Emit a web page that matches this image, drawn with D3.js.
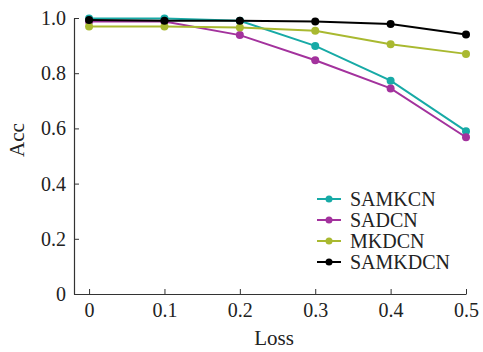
<!DOCTYPE html>
<html>
<head>
<meta charset="utf-8">
<script src="https://cdn.jsdelivr.net/npm/d3@7"></script>
<style>
  body { margin: 0; background: #fff; }
  text { font-family: "Liberation Serif", "Times New Roman", serif; fill: #222; }
</style>
</head>
<body>
<svg width="483" height="352"></svg>
<script>
var lossTicks = [0, 0.1, 0.2, 0.3, 0.4, 0.5];
var accTicks = [0, 0.2, 0.4, 0.6, 0.8, 1.0];
var seriesNames = ["SAMKCN", "SADCN", "MKDCN", "SAMKDCN"];
var samkcn = [0.998, 0.998, 0.99, 0.899, 0.773, 0.59];
var sadcn = [0.987, 0.987, 0.938, 0.847, 0.745, 0.568];
var mkdcn = [0.969, 0.969, 0.966, 0.954, 0.905, 0.87];
var samkdcn = [0.993, 0.99, 0.99, 0.987, 0.978, 0.94];
var colors = ["#17aaa6", "#a3329d", "#a9b930", "#000000"];

var svg = d3.select("svg");

var x = d3.scaleLinear().domain([-0.02, 0.5]).range([74, 466]);
var y = d3.scaleLinear().domain([0, 1]).range([294, 18]);

var series = [samkcn, sadcn, mkdcn, samkdcn].map(function(vals, i) {
  return {
    name: seriesNames[i],
    color: colors[i],
    values: vals.map(function(v, j) { return { loss: lossTicks[j], acc: v }; })
  };
});

// axes
var xAxis = svg.append("g")
  .attr("transform", "translate(0,294)")
  .call(d3.axisBottom(x).tickValues(lossTicks).tickSize(-5).tickSizeOuter(0)
    .tickFormat(function(d) { return d === 0 ? "0" : d3.format(".1f")(d); }));
xAxis.select(".domain").attr("stroke", "#333").attr("stroke-width", 1.2);
xAxis.selectAll(".tick line").attr("stroke", "#333");
xAxis.selectAll(".tick text").attr("y", 9).attr("dy", "0.71em")
  .style("font-size", "20px").style("font-family", "Liberation Serif");

var yAxis = svg.append("g")
  .attr("transform", "translate(74,0)")
  .call(d3.axisLeft(y).tickValues(accTicks).tickSize(-5).tickSizeOuter(0)
    .tickFormat(function(d) { return d === 0 ? "0" : d3.format(".1f")(d); }));
yAxis.select(".domain").attr("stroke", "#333").attr("stroke-width", 1.2);
yAxis.selectAll(".tick line").attr("stroke", "#333");
yAxis.selectAll(".tick text").attr("x", -8)
  .style("font-size", "20px").style("font-family", "Liberation Serif");

svg.append("text")
  .attr("x", 274).attr("y", 345)
  .attr("text-anchor", "middle")
  .style("font-size", "21px")
  .text("Loss");

svg.append("text")
  .attr("transform", "translate(24,140) rotate(-90)")
  .attr("text-anchor", "middle")
  .style("font-size", "21px")
  .text("Acc");

// lines
var line = d3.line()
  .x(function(d) { return x(d.loss); })
  .y(function(d) { return y(d.acc); });

var g = svg.append("g");
series.forEach(function(s) {
  g.append("path")
    .datum(s.values)
    .attr("fill", "none")
    .attr("stroke", s.color)
    .attr("stroke-width", 2)
    .attr("d", line);
  g.selectAll(null)
    .data(s.values)
    .enter()
    .append("circle")
    .attr("cx", function(d) { return x(d.loss); })
    .attr("cy", function(d) { return y(d.acc); })
    .attr("r", 4)
    .attr("fill", s.color);
});

// legend
var legend = svg.append("g");
series.forEach(function(s, i) {
  var ly = 199 + i * 21;
  legend.append("line")
    .attr("x1", 317).attr("x2", 341)
    .attr("y1", ly).attr("y2", ly)
    .attr("stroke", s.color).attr("stroke-width", 2);
  legend.append("circle")
    .attr("cx", 329).attr("cy", ly).attr("r", 3.5)
    .attr("fill", s.color);
  legend.append("text")
    .attr("x", 350).attr("y", ly)
    .attr("dy", "0.35em")
    .style("font-size", "20px")
    .text(s.name);
});
</script>
</body>
</html>
